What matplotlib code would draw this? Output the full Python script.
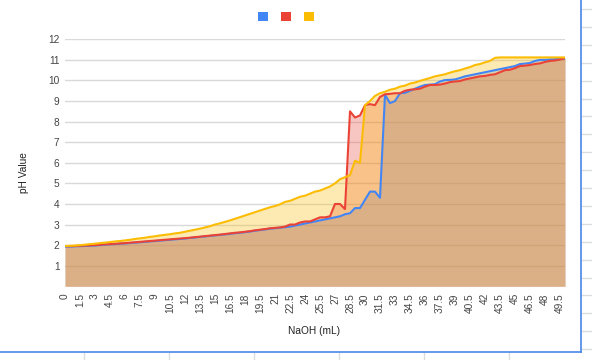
import matplotlib.pyplot as plt
from matplotlib.patches import Patch
from matplotlib.lines import Line2D

plt.rcParams['font.family'] = ['Liberation Sans', 'DejaVu Sans']

naoh = [0, 0.5, 1, 1.5, 2, 2.5, 3, 3.5, 4, 4.5, 5, 5.5, 6, 6.5, 7, 7.5, 8, 8.5, 9, 9.5,
        10, 10.5, 11, 11.5, 12, 12.5, 13, 13.5, 14, 14.5, 15, 15.5, 16, 16.5, 17, 17.5,
        18, 18.5, 19, 19.5, 20, 20.5, 21, 21.5, 22, 22.5, 23, 23.5, 24, 24.5, 25, 25.5,
        26, 26.5, 27, 27.5, 28, 28.5, 29, 29.5, 30, 30.5, 31, 31.5, 32, 32.5, 33, 33.5,
        34, 34.5, 35, 35.5, 36, 36.5, 37, 37.5, 38, 38.5, 39, 39.5, 40, 40.5, 41, 41.5,
        42, 42.5, 43, 43.5, 44, 44.5, 45, 45.5, 46, 46.5, 47, 47.5, 48, 48.5, 49, 49.5, 50]

ph_blue = [1.93, 1.93, 1.94, 1.95, 1.96, 1.97, 1.98, 2.0, 2.02, 2.04,
           2.05, 2.07, 2.08, 2.1, 2.12, 2.14, 2.16, 2.18, 2.2, 2.22,
           2.24, 2.26, 2.28, 2.3, 2.32, 2.35, 2.37, 2.4, 2.42, 2.45,
           2.47, 2.5, 2.52, 2.55, 2.58, 2.6, 2.63, 2.66, 2.7, 2.73,
           2.76, 2.8, 2.82, 2.85, 2.87, 2.9, 2.95, 3.0, 3.05, 3.1,
           3.15, 3.2, 3.25, 3.3, 3.35, 3.4, 3.5, 3.55, 3.8, 3.8,
           4.2, 4.6, 4.6, 4.3, 9.3, 8.9, 9.0, 9.38, 9.4, 9.5,
           9.6, 9.7, 9.78, 9.8, 9.82, 9.95, 10.02, 10.03, 10.05, 10.12,
           10.2, 10.25, 10.3, 10.35, 10.4, 10.45, 10.5, 10.55, 10.6, 10.65,
           10.7, 10.8, 10.82, 10.85, 10.95, 11.0, 11.0, 11.02, 11.03, 11.05, 11.05]

ph_red = [1.95, 1.95, 1.96, 1.97, 1.98, 1.99, 2.0, 2.02, 2.04, 2.05,
          2.07, 2.08, 2.1, 2.12, 2.14, 2.16, 2.18, 2.2, 2.22, 2.24,
          2.26, 2.28, 2.3, 2.32, 2.34, 2.36, 2.39, 2.41, 2.44, 2.46,
          2.49, 2.51, 2.54, 2.57, 2.6, 2.62, 2.65, 2.68, 2.72, 2.75,
          2.78, 2.82, 2.84, 2.86, 2.9, 3.0, 3.0, 3.1, 3.15, 3.15,
          3.25, 3.35, 3.35, 3.4, 4.0, 4.0, 3.75, 8.5, 8.2, 8.3,
          8.8, 8.85, 8.8, 9.2, 9.33, 9.35, 9.38, 9.38, 9.5, 9.55,
          9.57, 9.6, 9.7, 9.78, 9.78, 9.8, 9.85, 9.92, 9.95, 9.97,
          10.05, 10.1, 10.15, 10.2, 10.22, 10.27, 10.3, 10.4, 10.5, 10.52,
          10.6, 10.7, 10.72, 10.75, 10.8, 10.83, 10.9, 10.95, 10.97, 11.02, 11.08]

ph_yellow = [1.96, 1.97, 1.98, 2.0, 2.02, 2.05, 2.07, 2.1, 2.12, 2.15,
             2.18, 2.2, 2.23, 2.26, 2.3, 2.33, 2.36, 2.4, 2.43, 2.47,
             2.5, 2.53, 2.57, 2.6, 2.65, 2.7, 2.75, 2.8, 2.86, 2.92,
             3.0, 3.06, 3.13, 3.2, 3.28, 3.36, 3.44, 3.52, 3.6, 3.68,
             3.76, 3.84, 3.9, 3.98, 4.1, 4.15, 4.25, 4.35, 4.4, 4.5,
             4.6, 4.65, 4.75, 4.85, 5.0, 5.2, 5.3, 5.4, 6.1, 6.0,
             8.8, 9.0, 9.25, 9.38, 9.45, 9.55, 9.6, 9.7, 9.75, 9.85,
             9.9, 9.98, 10.05, 10.12, 10.2, 10.25, 10.3, 10.38, 10.45, 10.5,
             10.58, 10.65, 10.75, 10.8, 10.88, 10.95, 11.1, 11.12, 11.12, 11.12,
             11.12, 11.12, 11.12, 11.12, 11.12, 11.12, 11.12, 11.12, 11.12, 11.12, 11.12]

colors = ["#4285F4", "#EA4335", "#FBBC04"]
series = [ph_blue, ph_red, ph_yellow]

fig = plt.figure(figsize=(5.92, 3.6), dpi=100)
ax = fig.add_axes([65 / 592, 1 - 286.3 / 360, 500 / 592, (286.3 - 39.3) / 360])

idx = list(range(len(naoh)))
for vals, c in zip(series, colors):
    ax.fill_between(idx, 0, vals, color=c, alpha=0.3, linewidth=0)
for vals, c in zip(series, colors):
    ax.plot(idx, vals, color=c, linewidth=1.5)

ax.set_xlim(0, len(naoh) - 1)
ax.set_ylim(0, 12)
ax.set_yticks(range(1, 13))
ax.set_xticks(idx[::3])
ax.set_xticklabels([f"{v:g}" for v in naoh[::3]], rotation=90)
ax.tick_params(axis="both", length=0, labelsize=7.3, colors="#444444")
ax.tick_params(axis="x", pad=5)
ax.tick_params(axis="y", pad=4)
ax.grid(axis="y", color="#d9d9d9", linewidth=1)
ax.set_axisbelow(True)
for s in ax.spines.values():
    s.set_visible(False)

fig.text(24 / 592, 1 - 173 / 360, "pH Value", rotation=90, ha="center", va="center",
         fontsize=7.3, color="#222222")
fig.text(314 / 592, 1 - 331 / 360, "NaOH (mL)", ha="center", va="center",
         fontsize=7.3, color="#222222")

handles = [Patch(facecolor=c, edgecolor="none") for c in colors]
fig.legend(handles, ["", "", ""], loc="center", bbox_to_anchor=(290 / 592, 1 - 17 / 360),
           ncol=3, frameon=False, fontsize=7.3, handlelength=1.0, handleheight=1.0,
           handletextpad=0.8, columnspacing=0.5)

# spreadsheet cells and selection border around the chart
grey = "#dadce0"
y = 9
while y < 352:
    fig.add_artist(Line2D([582 / 592, 1], [1 - y / 360] * 2, color=grey, linewidth=1))
    y += 17.9
for x in [84, 169, 254, 339, 424, 509]:
    fig.add_artist(Line2D([x / 592] * 2, [0, 1 - 353 / 360], color=grey, linewidth=1))
fig.add_artist(Line2D([581 / 592] * 2, [1 - 352 / 360, 1], color="#4a86e8", linewidth=1.2))
fig.add_artist(Line2D([0, 581 / 592], [1 - 352 / 360] * 2, color="#4a86e8", linewidth=1.2))

fig.savefig("out.png", dpi=100)
